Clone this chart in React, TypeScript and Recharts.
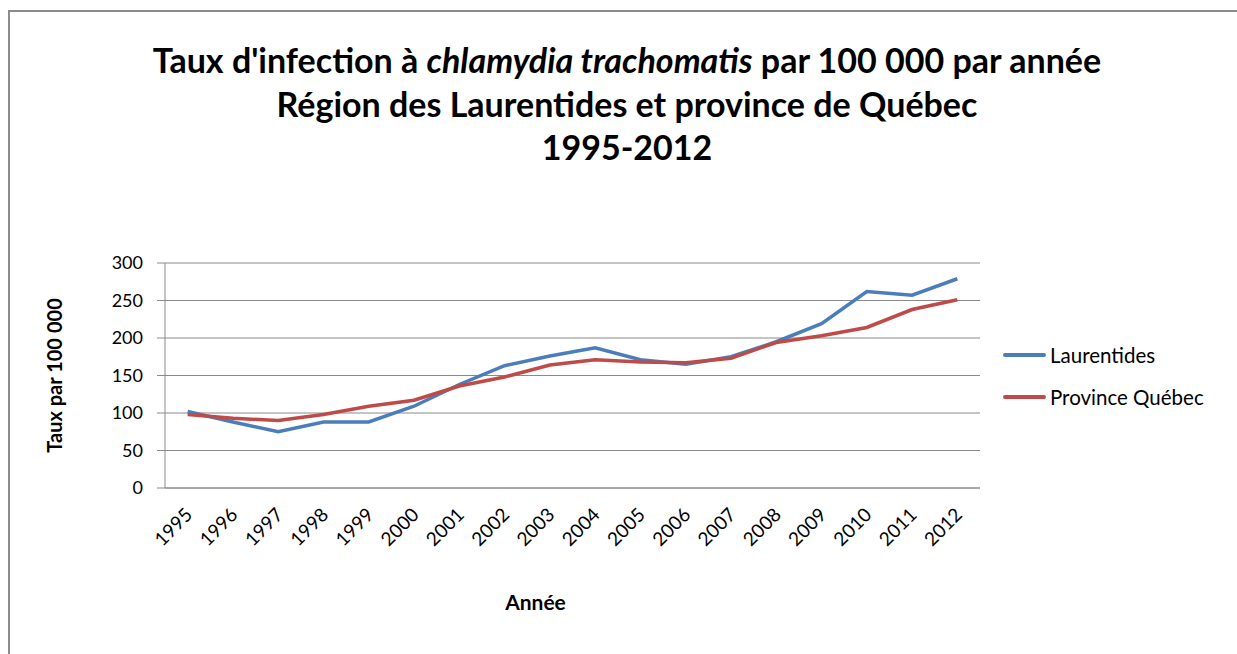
import React from 'react'
import { LineChart, Line, XAxis, YAxis, CartesianGrid, Label } from 'recharts'

const years = [
  '1995', '1996', '1997', '1998', '1999', '2000', '2001', '2002', '2003',
  '2004', '2005', '2006', '2007', '2008', '2009', '2010', '2011', '2012',
]
const laurentides = [
  102, 88, 75, 88, 88, 109, 138, 163, 176, 187, 171, 165, 175, 195, 219, 262, 257, 279,
]
const provinceQuebec = [
  98, 93, 90, 98, 109, 117, 136, 148, 164, 171, 168, 167, 173, 194, 203, 214, 238, 251,
]
const yTicks = [0, 50, 100, 150, 200, 250, 300]
const boundaryTicks = Array.from({ length: years.length + 1 }, (_, i) => i)

const series = [
  { key: 'laurentides', name: 'Laurentides', color: '#4a7ebb' },
  { key: 'province', name: 'Province Québec', color: '#be4b48' },
]

const data = years.map((year, i) => ({
  year,
  laurentides: laurentides[i],
  province: provinceQuebec[i],
}))

const FONT = 'Lato, "Open Sans", sans-serif'

const YearTick = (props: any) => {
  const { x, y, payload } = props
  const ax = x + 6
  const ay = y + 20
  return (
    <text
      x={ax}
      y={ay}
      transform={`rotate(-45 ${ax} ${ay})`}
      textAnchor="end"
      fontSize={19}
      fontFamily={FONT}
      fill="#000"
    >
      {payload.value}
    </text>
  )
}

const XTitle = (props: any) => {
  const { viewBox } = props
  return (
    <text
      x={viewBox.x + viewBox.width / 2 - 37}
      y={viewBox.y + viewBox.height + 42}
      textAnchor="middle"
      fontSize={21}
      fontWeight="bold"
      fontFamily={FONT}
      fill="#000"
    >
      Année
    </text>
  )
}

export default function App() {
  return (
    <div style={{ position: 'absolute', left: 0, top: 0, width: 1237, height: 654, background: '#fff', overflow: 'hidden', fontFamily: FONT }}>
      <div
        style={{
          position: 'absolute',
          left: 8,
          top: 10,
          width: 1260,
          height: 700,
          borderLeft: '2px solid #8c8c8c',
          borderTop: '2px solid #8c8c8c',
        }}
      />
      <div
        style={{
          position: 'absolute',
          left: 0,
          top: 38,
          width: 1254,
          textAlign: 'center',
          fontSize: 34,
          fontWeight: 'bold',
          lineHeight: '43.5px',
          color: '#000',
        }}
      >
        <div>
          Taux d'infection à <i>chlamydia trachomatis</i> par 100 000 par année
        </div>
        <div>Région des Laurentides et province de Québec</div>
        <div>1995-2012</div>
      </div>
      <div style={{ position: 'absolute', left: 0, top: 0 }}>
        <LineChart
          width={1237}
          height={654}
          data={data}
          margin={{ top: 263, right: 257, bottom: 86, left: 105 }}
        >
          <CartesianGrid vertical={false} stroke="#8a8a8a" strokeWidth={1} />
          <XAxis
            xAxisId="bounds"
            type="number"
            domain={[0, years.length]}
            ticks={boundaryTicks}
            allowDataOverflow
            height={0}
            tick={false}
            tickSize={7}
            axisLine={false}
            tickLine={{ stroke: '#8a8a8a' }}
          />
          <XAxis
            dataKey="year"
            interval={0}
            padding={{ left: 22.64, right: 22.64 }}
            height={80}
            axisLine={{ stroke: '#8a8a8a' }}
            tickLine={false}
            tick={<YearTick />}
          >
            <Label content={<XTitle />} />
          </XAxis>
          <YAxis
            width={60}
            domain={[0, 300]}
            ticks={yTicks}
            interval={0}
            tickSize={8}
            tickMargin={14}
            axisLine={{ stroke: '#8a8a8a' }}
            tickLine={{ stroke: '#8a8a8a' }}
            tick={{ fill: '#000', fontSize: 18, fontFamily: FONT }}
          >
            <Label
              value={'Taux par 100\u202F000'}
              angle={-90}
              position="left"
              offset={50}
              style={{ textAnchor: 'middle', fontWeight: 'bold', fontSize: 20, fontFamily: FONT, fill: '#000' }}
            />
          </YAxis>
          {series.map((s) => (
            <Line
              key={s.key}
              dataKey={s.key}
              name={s.name}
              stroke={s.color}
              strokeWidth={3.5}
              dot={false}
              activeDot={false}
              isAnimationActive={false}
            />
          ))}
        </LineChart>
      </div>
      {series.map((s, i) => (
        <div
          key={s.key}
          style={{ position: 'absolute', left: 1003, top: 342 + i * 42, display: 'flex', alignItems: 'center', height: 26 }}
        >
          <div style={{ width: 43, height: 4, background: s.color, borderRadius: 2 }} />
          <span style={{ marginLeft: 4, fontSize: 20.5, color: '#000' }}>{s.name}</span>
        </div>
      ))}
    </div>
  )
}
